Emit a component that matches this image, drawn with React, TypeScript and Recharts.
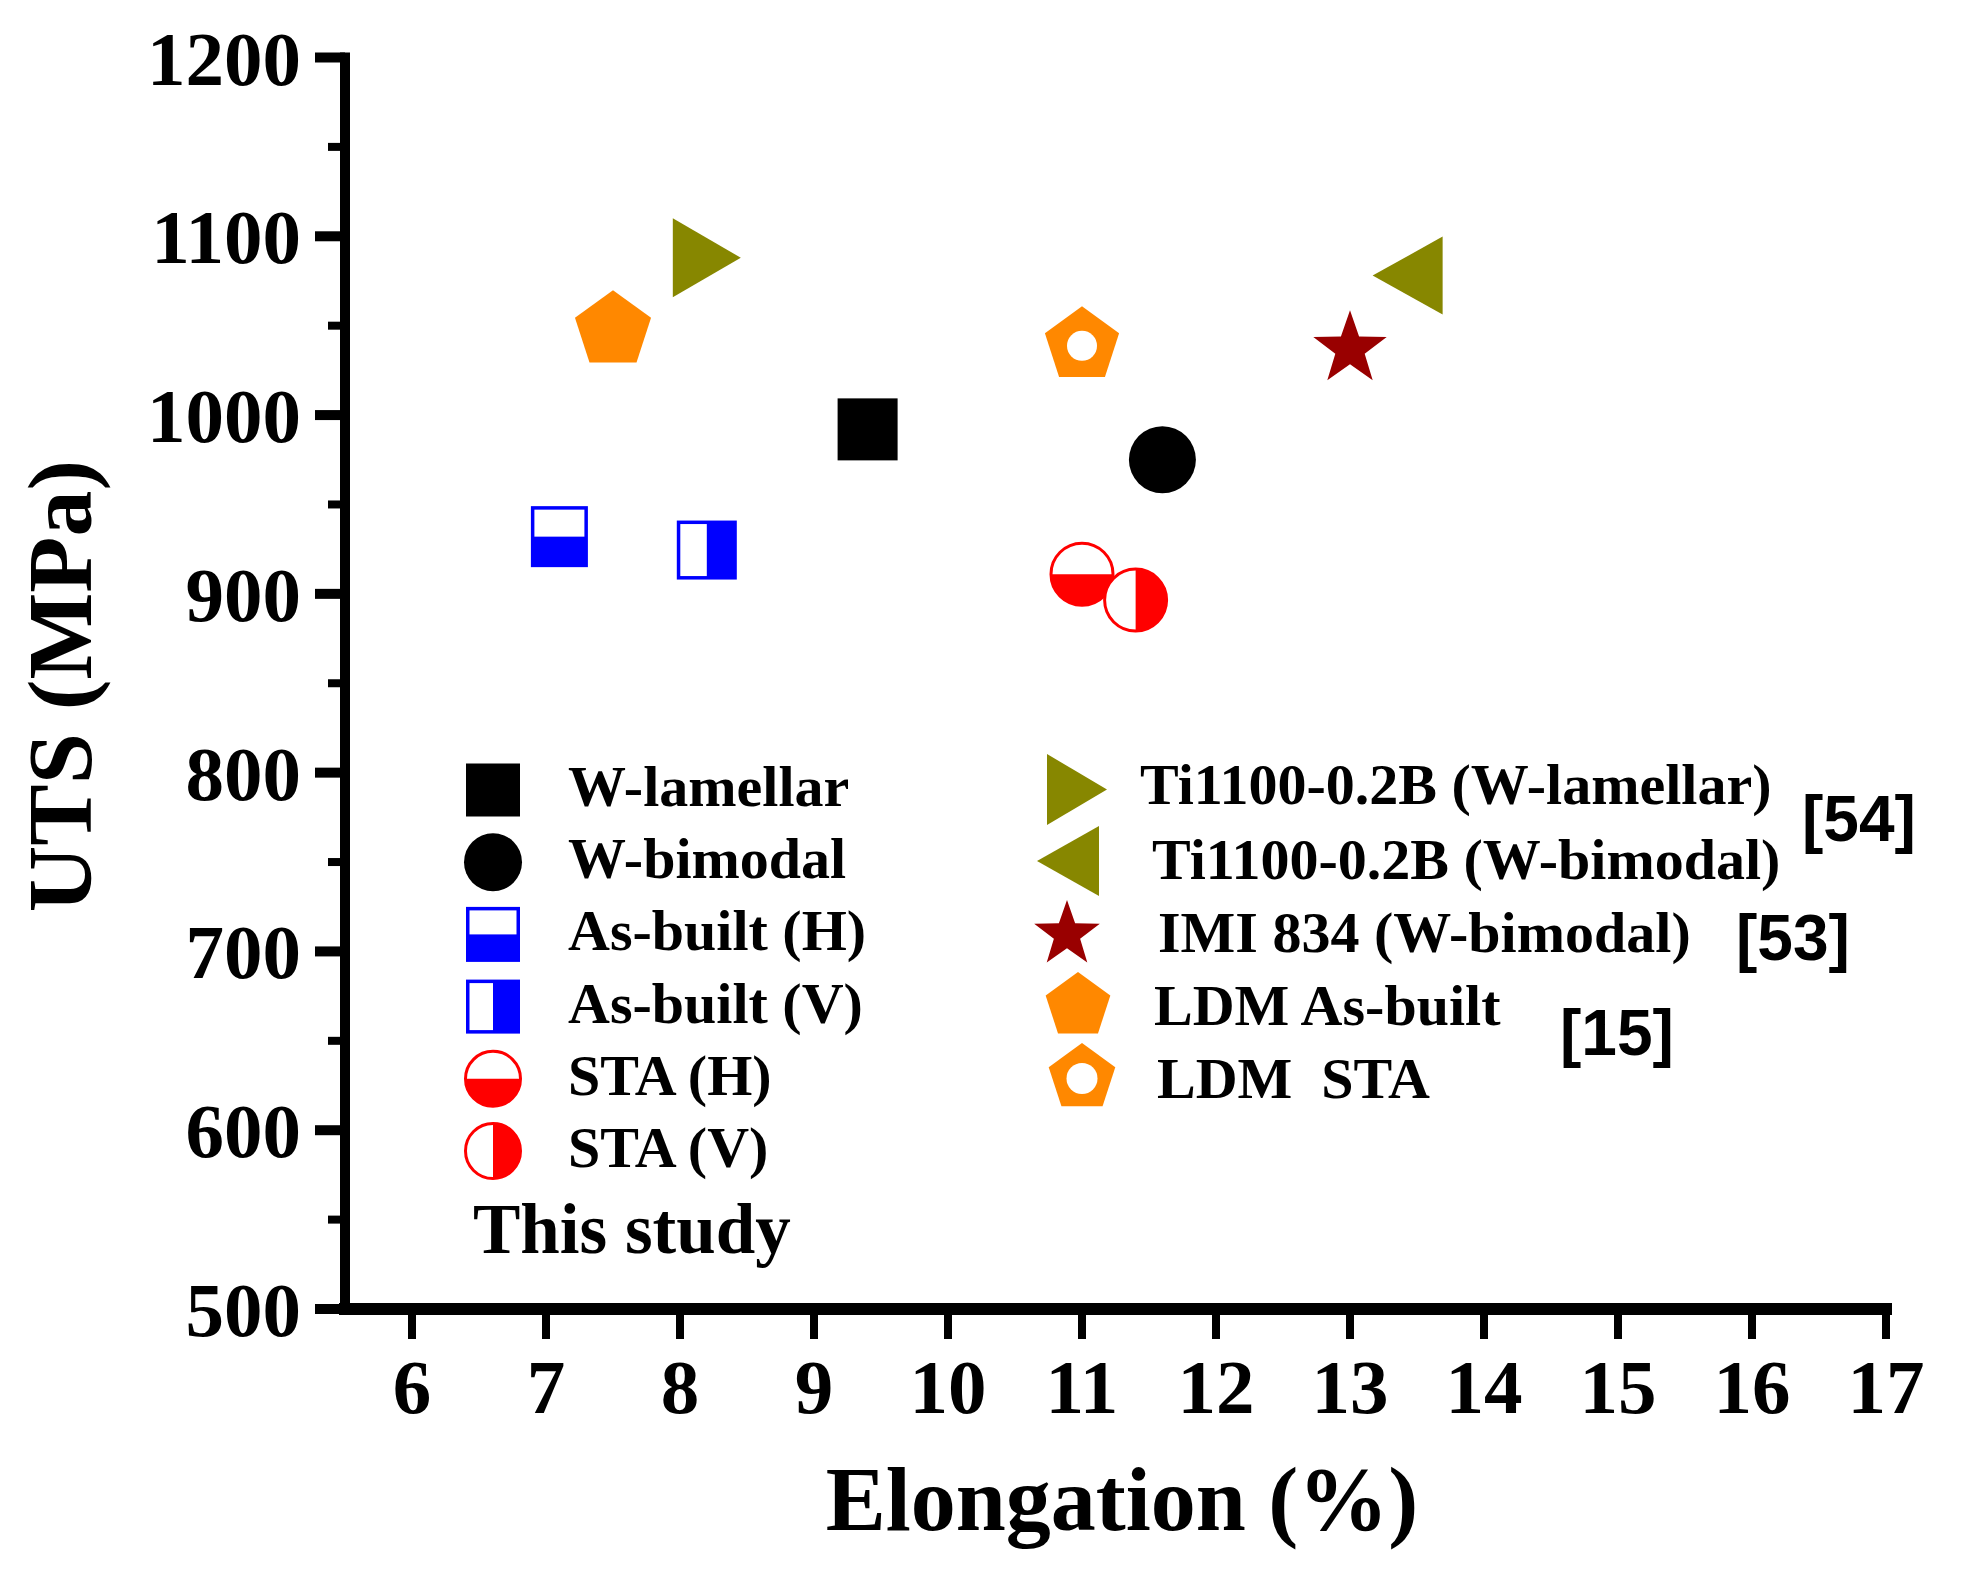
import React from 'react';
import { ScatterChart, Scatter, XAxis, YAxis, Legend } from 'recharts';

// ---------- data ----------
const seriesNames = [
  'W-lamellar',
  'W-bimodal',
  'As-built (H)',
  'As-built (V)',
  'STA (H)',
  'STA (V)',
  'Ti1100-0.2B (W-lamellar)',
  'Ti1100-0.2B (W-bimodal)',
  'IMI 834 (W-bimodal)',
  'LDM As-built',
  'LDM  STA',
];
const elongation = [9.4, 11.6, 7.1, 8.2, 11.0, 11.4, 8.2, 13.43, 13.0, 7.5, 11.0];
const uts = [992, 975, 932, 924.5, 911, 896.5, 1088, 1078, 1037, 1047.5, 1039];

const xTicks = [6, 7, 8, 9, 10, 11, 12, 13, 14, 15, 16, 17];
const yTicks = [500, 550, 600, 650, 700, 750, 800, 850, 900, 950, 1000, 1050, 1100, 1150, 1200];
const referenceLabels = ['[54]', '[53]', '[15]'];
const studyLabel = 'This study';
const xTitle = 'Elongation (%)';
const yTitle = 'UTS (MPa)';

// ---------- styling / layout ----------
type Kind =
  | 'square' | 'circle' | 'squareH' | 'squareV' | 'circleH' | 'circleV'
  | 'triRight' | 'triLeft' | 'star' | 'pentagon' | 'pentagonHollow';

const kinds: Kind[] = [
  'square', 'circle', 'squareH', 'squareV', 'circleH', 'circleV',
  'triRight', 'triLeft', 'star', 'pentagon', 'pentagonHollow',
];
const colors = [
  '#000000', '#000000', '#0000FF', '#0000FF', '#FF0000', '#FF0000',
  '#878700', '#878700', '#990000', '#FF8800', '#FF8800',
];

type Size = { w?: number; h?: number; r?: number; sw?: number; hole?: number };

const plotSize: Record<Kind, Size> = {
  square: { w: 60, h: 62 },
  circle: { r: 33.5 },
  squareH: { w: 57, h: 61, sw: 3.5 },
  squareV: { w: 60, h: 59, sw: 3.5 },
  circleH: { r: 32.5, sw: 3 },
  circleV: { r: 32.5, sw: 3 },
  triRight: { w: 68, h: 79 },
  triLeft: { w: 70, h: 78 },
  star: { r: 38.6 },
  pentagon: { r: 40 },
  pentagonHollow: { r: 39, hole: 15 },
};
const legendSize: Record<Kind, Size> = {
  square: { w: 54, h: 53 },
  circle: { r: 29 },
  squareH: { w: 54, h: 55, sw: 3.5 },
  squareV: { w: 54, h: 54, sw: 3.5 },
  circleH: { r: 29, sw: 3 },
  circleV: { r: 29, sw: 3 },
  triRight: { w: 60, h: 71 },
  triLeft: { w: 62, h: 70 },
  star: { r: 34.5 },
  pentagon: { r: 34 },
  pentagonHollow: { r: 35, hole: 15.5 },
};

const W = 1947;
const H = 1561;
const MARGIN = { top: 49.5, right: 69, bottom: 60, left: 137 };
const Y_AXIS_W = 200;
const X_AXIS_H = 200;

const SERIF = "'Liberation Serif', 'Times New Roman', Times, serif";
const SANS = "'Liberation Sans', Arial, Helvetica, sans-serif";

// legend layout (svg coordinates)
const col1X = 485;
const col1Y0 = 782;
const rowStep = 72.2;
const col1TextX = 560;
const col1TextY0 = 798;
const col2Sym = [
  [1069, 781.5],
  [1060, 853],
  [1059, 926.5],
  [1070, 998],
  [1074, 1070],
];
const col2TextX = [1132, 1144, 1150, 1146, 1149];
const col2TextY = [796, 871, 944, 1017, 1090];
const studyPos = [465, 1245];
const refPos = [
  [1794, 833],
  [1728, 952],
  [1552, 1047],
];

// ---------- marker drawing ----------
function polygon(points: number[][]) {
  return points.map((p) => `${p[0].toFixed(2)},${p[1].toFixed(2)}`).join(' ');
}

function Marker({ kind, cx, cy, color, s }: { kind: Kind; cx: number; cy: number; color: string; s: Size }) {
  if (cx == null || cy == null || isNaN(cx) || isNaN(cy)) return null;
  switch (kind) {
    case 'square': {
      const w = s.w!, h = s.h!;
      return <rect x={cx - w / 2} y={cy - h / 2} width={w} height={h} fill={color} />;
    }
    case 'circle':
      return <circle cx={cx} cy={cy} r={s.r} fill={color} />;
    case 'squareH':
    case 'squareV': {
      const w = s.w!, h = s.h!, sw = s.sw!;
      const x = cx - w / 2, y = cy - h / 2;
      return (
        <g>
          <rect x={x} y={y} width={w} height={h} fill={color} />
          {kind === 'squareH' ? (
            <rect x={x + sw} y={y + sw} width={w - 2 * sw} height={h / 2 - sw} fill="#FFFFFF" />
          ) : (
            <rect x={x + sw} y={y + sw} width={w / 2 - sw} height={h - 2 * sw} fill="#FFFFFF" />
          )}
        </g>
      );
    }
    case 'circleH':
    case 'circleV': {
      const r = s.r!, sw = s.sw!;
      const rr = r - sw / 2;
      const half =
        kind === 'circleH'
          ? `M ${cx - rr} ${cy} A ${rr} ${rr} 0 0 0 ${cx + rr} ${cy} Z`
          : `M ${cx} ${cy - rr} A ${rr} ${rr} 0 0 1 ${cx} ${cy + rr} Z`;
      return (
        <g>
          <circle cx={cx} cy={cy} r={rr} fill="#FFFFFF" stroke={color} strokeWidth={sw} />
          <path d={half} fill={color} />
        </g>
      );
    }
    case 'triRight': {
      const w = s.w!, h = s.h!;
      return (
        <polygon
          points={polygon([
            [cx - w / 2, cy - h / 2],
            [cx + w / 2, cy],
            [cx - w / 2, cy + h / 2],
          ])}
          fill={color}
        />
      );
    }
    case 'triLeft': {
      const w = s.w!, h = s.h!;
      return (
        <polygon
          points={polygon([
            [cx + w / 2, cy - h / 2],
            [cx - w / 2, cy],
            [cx + w / 2, cy + h / 2],
          ])}
          fill={color}
        />
      );
    }
    case 'star': {
      const R = s.r!, r = R * 0.4;
      const pts: number[][] = [];
      for (let i = 0; i < 10; i++) {
        const a = (-90 + i * 36) * (Math.PI / 180);
        const rad = i % 2 === 0 ? R : r;
        pts.push([cx + rad * Math.cos(a), cy + rad * Math.sin(a)]);
      }
      return <polygon points={polygon(pts)} fill={color} />;
    }
    case 'pentagon':
    case 'pentagonHollow': {
      const R = s.r!;
      const pts: number[][] = [];
      for (let i = 0; i < 5; i++) {
        const a = (-90 + i * 72) * (Math.PI / 180);
        pts.push([cx + R * Math.cos(a), cy + R * Math.sin(a)]);
      }
      return (
        <g>
          <polygon points={polygon(pts)} fill={color} />
          {kind === 'pentagonHollow' && <circle cx={cx} cy={cy + 0.5} r={s.hole} fill="#FFFFFF" />}
        </g>
      );
    }
    default:
      return null;
  }
}

// ---------- ticks ----------
const YTick = (props: any) => {
  const { x, y, payload } = props;
  const v = payload.value as number;
  const major = v % 100 === 0;
  return (
    <g>
      <line x1={x - (major ? 30 : 17)} x2={x} y1={y} y2={y} stroke="#000" strokeWidth={major ? 10 : 8} />
      {major && (
        <text x={x - 44} y={y + 27} textAnchor="end" fontFamily={SERIF} fontWeight="bold" fontSize={77} fill="#000">
          {v}
        </text>
      )}
    </g>
  );
};

const XTick = (props: any) => {
  const { x, y, payload } = props;
  return (
    <g>
      <line x1={x} x2={x} y1={y} y2={y + 30} stroke="#000" strokeWidth={8} />
      <text x={x} y={y + 104} textAnchor="middle" fontFamily={SERIF} fontWeight="bold" fontSize={77} fill="#000">
        {payload.value}
      </text>
    </g>
  );
};

const XTitle = () => (
  <text x={1114} y={1522} textAnchor="middle" fontFamily={SERIF} fontWeight="bold" fontSize={90} fill="#000">
    {xTitle}
  </text>
);

const YTitle = () => (
  <text
    x={83}
    y={678}
    transform="rotate(-90 83 678)"
    textAnchor="middle"
    fontFamily={SERIF}
    fontWeight="bold"
    fontSize={92}
    fill="#000"
  >
    {yTitle}
  </text>
);

// ---------- legend ----------
const LegendLayer = () => (
  <svg width={W} height={H} style={{ display: 'block', position: 'absolute', left: 0, top: 0 }}>
    {seriesNames.slice(0, 6).map((name, i) => (
      <g key={name}>
        <Marker kind={kinds[i]} cx={col1X} cy={col1Y0 + rowStep * i} color={colors[i]} s={legendSize[kinds[i]]} />
        <text x={col1TextX} y={col1TextY0 + rowStep * i} fontFamily={SERIF} fontWeight="bold" fontSize={58} fill="#000">
          {name}
        </text>
      </g>
    ))}
    {seriesNames.slice(6).map((name, j) => {
      const i = j + 6;
      return (
        <g key={name}>
          <Marker kind={kinds[i]} cx={col2Sym[j][0]} cy={col2Sym[j][1]} color={colors[i]} s={legendSize[kinds[i]]} />
          <text
            x={col2TextX[j]}
            y={col2TextY[j]}
            fontFamily={SERIF}
            fontWeight="bold"
            fontSize={58}
            fill="#000"
            style={{ whiteSpace: 'pre' }}
            xmlSpace="preserve"
          >
            {name}
          </text>
        </g>
      );
    })}
    <text x={studyPos[0]} y={studyPos[1]} fontFamily={SERIF} fontWeight="bold" fontSize={71} fill="#000">
      {studyLabel}
    </text>
    {referenceLabels.map((ref, k) => (
      <text key={ref} x={refPos[k][0]} y={refPos[k][1]} fontFamily={SANS} fontWeight="bold" fontSize={64} fill="#000">
        {ref}
      </text>
    ))}
  </svg>
);

export default function App() {
  return (
    <div style={{ width: W, height: H, background: '#fff' }}>
      <ScatterChart width={W} height={H} margin={MARGIN}>
        <XAxis
          type="number"
          dataKey="x"
          domain={[5.5, 17]}
          ticks={xTicks}
          interval={0}
          allowDataOverflow
          height={X_AXIS_H}
          tickSize={0}
          tickMargin={0}
          tickLine={false}
          tick={XTick}
          axisLine={{ stroke: '#000', strokeWidth: 12, strokeLinecap: 'square' }}
          label={XTitle}
        />
        <YAxis
          type="number"
          dataKey="y"
          domain={[500, 1200]}
          ticks={yTicks}
          interval={0}
          allowDataOverflow
          width={Y_AXIS_W}
          tickSize={0}
          tickMargin={0}
          tickLine={false}
          tick={YTick}
          axisLine={{ stroke: '#000', strokeWidth: 10, strokeLinecap: 'square' }}
          label={YTitle}
        />
        <Legend
          layout="horizontal"
          verticalAlign="middle"
          align="center"
          content={() => <LegendLayer />}
          wrapperStyle={{ left: 0, top: 0, width: W, height: H, margin: 0, padding: 0, pointerEvents: 'none' }}
        />
        {seriesNames.map((name, i) => (
          <Scatter
            key={name}
            name={name}
            data={[{ x: elongation[i], y: uts[i] }]}
            isAnimationActive={false}
            shape={(p: any) => (
              <Marker kind={kinds[i]} cx={p.cx} cy={p.cy} color={colors[i]} s={plotSize[kinds[i]]} />
            )}
          />
        ))}
      </ScatterChart>
    </div>
  );
}
